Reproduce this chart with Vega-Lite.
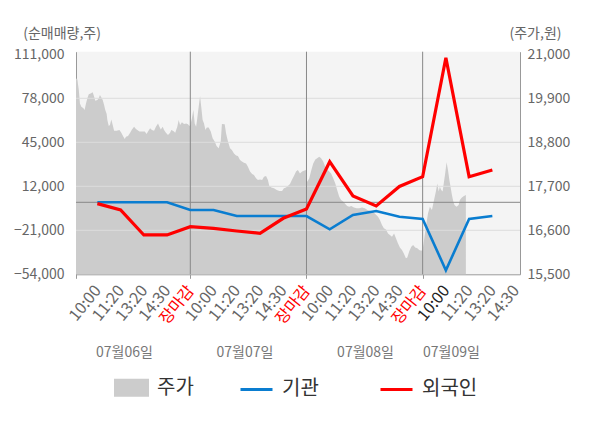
{
  "$schema": "https://vega.github.io/schema/vega-lite/v6.json",
  "width": 444,
  "height": 222.6,
  "autosize": {"type": "none"},
  "padding": {"left": 76, "top": 51.7, "right": 80, "bottom": 153.7},
  "background": "white",
  "config": {
    "font": "Noto Sans CJK KR",
    "view": {"fill": "#f4f4f4", "stroke": null},
    "axis": {
      "labelFont": "Noto Sans CJK KR",
      "titleFont": "Noto Sans CJK KR",
      "labelFontSize": 14,
      "labelColor": "#666666",
      "domainColor": "#999999",
      "grid": false,
      "ticks": false,
      "titleFontWeight": "normal",
      "titleFontSize": 14,
      "titleColor": "#666666",
      "labelFlush": false,
      "labelOverlap": false
    }
  },
  "datasets": {
    "price": [
      {"k": 0.08, "p": 20400}, {"k": 0.14, "p": 20370}, {"k": 0.2, "p": 20110}, {"k": 0.25, "p": 19770},
      {"k": 0.31, "p": 19690}, {"k": 0.4, "p": 19650}, {"k": 0.45, "p": 19610}, {"k": 0.51, "p": 19770},
      {"k": 0.57, "p": 19900}, {"k": 0.63, "p": 20000}, {"k": 0.71, "p": 20020}, {"k": 0.8, "p": 20050},
      {"k": 0.86, "p": 19940}, {"k": 0.91, "p": 19840}, {"k": 1.0, "p": 19860}, {"k": 1.06, "p": 19900},
      {"k": 1.11, "p": 19980}, {"k": 1.17, "p": 19920}, {"k": 1.23, "p": 19860}, {"k": 1.29, "p": 19730},
      {"k": 1.34, "p": 19610}, {"k": 1.4, "p": 19510}, {"k": 1.43, "p": 19360}, {"k": 1.49, "p": 19210},
      {"k": 1.54, "p": 19230}, {"k": 1.6, "p": 19370}, {"k": 1.66, "p": 19230}, {"k": 1.72, "p": 19090},
      {"k": 1.83, "p": 19090}, {"k": 1.95, "p": 19110}, {"k": 2.03, "p": 19040}, {"k": 2.12, "p": 18940},
      {"k": 2.18, "p": 18880}, {"k": 2.23, "p": 18940}, {"k": 2.32, "p": 18960}, {"k": 2.41, "p": 19040},
      {"k": 2.49, "p": 19120}, {"k": 2.58, "p": 19190}, {"k": 2.66, "p": 19130}, {"k": 2.72, "p": 19110},
      {"k": 2.81, "p": 19070}, {"k": 2.92, "p": 19070}, {"k": 3.04, "p": 19070}, {"k": 3.12, "p": 19010},
      {"k": 3.18, "p": 19070}, {"k": 3.27, "p": 19150}, {"k": 3.35, "p": 19110}, {"k": 3.44, "p": 19090},
      {"k": 3.52, "p": 19190}, {"k": 3.61, "p": 19270}, {"k": 3.67, "p": 19190}, {"k": 3.73, "p": 19120},
      {"k": 3.81, "p": 19190}, {"k": 3.87, "p": 19110}, {"k": 3.95, "p": 19040}, {"k": 4.04, "p": 18980},
      {"k": 4.13, "p": 19040}, {"k": 4.18, "p": 19110}, {"k": 4.27, "p": 19080}, {"k": 4.35, "p": 19040},
      {"k": 4.44, "p": 19190}, {"k": 4.5, "p": 19360}, {"k": 4.56, "p": 19230}, {"k": 4.64, "p": 19300},
      {"k": 4.73, "p": 19260}, {"k": 4.82, "p": 19270}, {"k": 4.9, "p": 19250}, {"k": 4.96, "p": 19210},
      {"k": 5.0, "p": 19230}, {"k": 5.07, "p": 19400}, {"k": 5.13, "p": 19610}, {"k": 5.19, "p": 19270},
      {"k": 5.25, "p": 19190}, {"k": 5.3, "p": 19400}, {"k": 5.36, "p": 19690}, {"k": 5.42, "p": 19960},
      {"k": 5.47, "p": 19690}, {"k": 5.53, "p": 19360}, {"k": 5.59, "p": 19270}, {"k": 5.65, "p": 19110},
      {"k": 5.71, "p": 19170}, {"k": 5.79, "p": 19170}, {"k": 5.88, "p": 19070}, {"k": 5.96, "p": 18900},
      {"k": 6.05, "p": 18820}, {"k": 6.13, "p": 18710}, {"k": 6.22, "p": 18650}, {"k": 6.31, "p": 18820},
      {"k": 6.36, "p": 19260}, {"k": 6.48, "p": 19250}, {"k": 6.54, "p": 19020}, {"k": 6.62, "p": 18820},
      {"k": 6.71, "p": 18650}, {"k": 6.79, "p": 18610}, {"k": 6.88, "p": 18520}, {"k": 6.97, "p": 18470},
      {"k": 7.05, "p": 18460}, {"k": 7.14, "p": 18360}, {"k": 7.22, "p": 18320}, {"k": 7.31, "p": 18290},
      {"k": 7.4, "p": 18270}, {"k": 7.48, "p": 18190}, {"k": 7.57, "p": 18070}, {"k": 7.66, "p": 18010},
      {"k": 7.74, "p": 17980}, {"k": 7.83, "p": 17900}, {"k": 7.91, "p": 17860}, {"k": 8.0, "p": 17870},
      {"k": 8.09, "p": 17860}, {"k": 8.17, "p": 17940}, {"k": 8.26, "p": 17960}, {"k": 8.34, "p": 17860},
      {"k": 8.4, "p": 17710}, {"k": 8.49, "p": 17670}, {"k": 8.6, "p": 17650}, {"k": 8.72, "p": 17610},
      {"k": 8.83, "p": 17580}, {"k": 8.95, "p": 17580}, {"k": 9.03, "p": 17650}, {"k": 9.12, "p": 17670},
      {"k": 9.2, "p": 17710}, {"k": 9.29, "p": 17760}, {"k": 9.38, "p": 17870}, {"k": 9.46, "p": 17960},
      {"k": 9.55, "p": 18070}, {"k": 9.63, "p": 18110}, {"k": 9.72, "p": 18020}, {"k": 9.81, "p": 18070},
      {"k": 9.89, "p": 18090}, {"k": 9.98, "p": 18110}, {"k": 10.01, "p": 17820}, {"k": 10.04, "p": 17820},
      {"k": 10.12, "p": 17900}, {"k": 10.21, "p": 18110}, {"k": 10.29, "p": 18270}, {"k": 10.38, "p": 18370},
      {"k": 10.46, "p": 18400}, {"k": 10.55, "p": 18440}, {"k": 10.63, "p": 18400}, {"k": 10.72, "p": 18320},
      {"k": 10.81, "p": 18190}, {"k": 10.89, "p": 18120}, {"k": 10.98, "p": 18070}, {"k": 11.06, "p": 18020},
      {"k": 11.15, "p": 17900}, {"k": 11.24, "p": 17770}, {"k": 11.32, "p": 17610}, {"k": 11.41, "p": 17440},
      {"k": 11.49, "p": 17360}, {"k": 11.58, "p": 17320}, {"k": 11.67, "p": 17260}, {"k": 11.75, "p": 17210},
      {"k": 11.84, "p": 17190}, {"k": 11.93, "p": 17210}, {"k": 12.04, "p": 17170}, {"k": 12.16, "p": 17150},
      {"k": 12.27, "p": 17150}, {"k": 12.39, "p": 17170}, {"k": 12.51, "p": 17150}, {"k": 12.62, "p": 17110},
      {"k": 12.74, "p": 17090}, {"k": 12.85, "p": 17070}, {"k": 12.96, "p": 17010}, {"k": 13.08, "p": 16940},
      {"k": 13.16, "p": 16860}, {"k": 13.25, "p": 16730}, {"k": 13.33, "p": 16650}, {"k": 13.42, "p": 16620},
      {"k": 13.51, "p": 16520}, {"k": 13.59, "p": 16480}, {"k": 13.68, "p": 16440}, {"k": 13.77, "p": 16520},
      {"k": 13.85, "p": 16400}, {"k": 13.94, "p": 16270}, {"k": 14.02, "p": 16170}, {"k": 14.11, "p": 16110},
      {"k": 14.19, "p": 16020}, {"k": 14.28, "p": 15900}, {"k": 14.34, "p": 15920}, {"k": 14.42, "p": 16070},
      {"k": 14.51, "p": 16190}, {"k": 14.59, "p": 16230}, {"k": 14.68, "p": 16170}, {"k": 14.77, "p": 16150},
      {"k": 14.85, "p": 16110}, {"k": 14.94, "p": 16090}, {"k": 15.0, "p": 16110}, {"k": 15.06, "p": 16360},
      {"k": 15.14, "p": 16690}, {"k": 15.23, "p": 17020}, {"k": 15.31, "p": 17190}, {"k": 15.4, "p": 17110},
      {"k": 15.49, "p": 17360}, {"k": 15.57, "p": 17570}, {"k": 15.63, "p": 17770}, {"k": 15.69, "p": 17570},
      {"k": 15.74, "p": 17690}, {"k": 15.8, "p": 17610}, {"k": 15.86, "p": 17570}, {"k": 15.92, "p": 17820},
      {"k": 15.97, "p": 18020}, {"k": 16.03, "p": 18300}, {"k": 16.09, "p": 18110}, {"k": 16.15, "p": 17860},
      {"k": 16.2, "p": 17690}, {"k": 16.26, "p": 17480}, {"k": 16.32, "p": 17320}, {"k": 16.37, "p": 17230},
      {"k": 16.46, "p": 17190}, {"k": 16.55, "p": 17230}, {"k": 16.6, "p": 17360}, {"k": 16.69, "p": 17420},
      {"k": 16.78, "p": 17460}, {"k": 16.86, "p": 17480}
    ],
    "flows": [
      {"k": 1, "series": "기관", "v": 0}, {"k": 2, "series": "기관", "v": 0},
      {"k": 3, "series": "기관", "v": 0}, {"k": 4, "series": "기관", "v": 0},
      {"k": 5, "series": "기관", "v": -5800}, {"k": 6, "series": "기관", "v": -5800},
      {"k": 7, "series": "기관", "v": -10300}, {"k": 8, "series": "기관", "v": -10300},
      {"k": 9, "series": "기관", "v": -10300}, {"k": 10, "series": "기관", "v": -10300},
      {"k": 11, "series": "기관", "v": -20250}, {"k": 12, "series": "기관", "v": -9500},
      {"k": 13, "series": "기관", "v": -6500}, {"k": 14, "series": "기관", "v": -10800},
      {"k": 15, "series": "기관", "v": -12500}, {"k": 16, "series": "기관", "v": -51000},
      {"k": 17, "series": "기관", "v": -12500}, {"k": 18, "series": "기관", "v": -10300},
      {"k": 1, "series": "외국인", "v": -1000}, {"k": 2, "series": "외국인", "v": -5800},
      {"k": 3, "series": "외국인", "v": -24500}, {"k": 4, "series": "외국인", "v": -24500},
      {"k": 5, "series": "외국인", "v": -18300}, {"k": 6, "series": "외국인", "v": -19500},
      {"k": 7, "series": "외국인", "v": -21500}, {"k": 8, "series": "외국인", "v": -23250},
      {"k": 9, "series": "외국인", "v": -12000}, {"k": 10, "series": "외국인", "v": -5000},
      {"k": 11, "series": "외국인", "v": 30450}, {"k": 12, "series": "외국인", "v": 4800},
      {"k": 13, "series": "외국인", "v": -2700}, {"k": 14, "series": "외국인", "v": 11900},
      {"k": 15, "series": "외국인", "v": 19200}, {"k": 16, "series": "외국인", "v": 108450},
      {"k": 17, "series": "외국인", "v": 19200}, {"k": 18, "series": "외국인", "v": 24200}
    ],
    "hgrid": [{"v": -21000}, {"v": 12000}, {"v": 45000}, {"v": 78000}],
    "days": [{"k": 5}, {"k": 10}, {"k": 15}],
    "zero": [{"v": 0}]
  },
  "layer": [
    {
      "data": {"name": "price"},
      "mark": {"type": "area", "color": "#cccccc", "opacity": 1},
      "encoding": {
        "x": {
          "field": "k", "type": "quantitative",
          "scale": {"domain": [0.08, 19.19], "nice": false, "zero": false},
          "axis": {
            "orient": "bottom",
            "title": null,
            "values": [0.08, 1, 2, 3, 4, 5, 6, 7, 8, 9, 10, 11, 12, 13, 14, 15, 16, 17, 18, 19],
            "labelExpr": "datum.value < 0.5 ? '' : datum.value % 5 === 0 ? '장마감' : ['10:00', '11:20', '13:20', '14:30'][(datum.value % 5) - 1]",
            "labelAngle": -51,
            "labelFontSize": 16,
            "labelPadding": 9,
            "ticks": true,
            "tickSize": 4,
            "tickColor": "#999999",
            "tickOpacity": {"condition": {"test": "datum.value < 0.5 || datum.value % 5 === 0", "value": 1}, "value": 0},
            "labelColor": {"condition": [
              {"test": "datum.value % 5 === 0", "value": "#ff0000"},
              {"test": "datum.value === 16", "value": "#222222"}
            ], "value": "#666666"},
            "domain": true
          }
        },
        "y": {
          "field": "p", "type": "quantitative",
          "scale": {"domain": [15500, 21065], "nice": false, "zero": false},
          "axis": {
            "orient": "right",
            "values": [15500, 16600, 17700, 18800, 19900, 21000],
            "labelExpr": "format(datum.value, ',')",
            "labelPadding": 7,
            "domain": true,
            "title": "(주가,원)",
            "titleAngle": 0,
            "titleX": -11,
            "titleY": -18.7,
            "titleAlign": "left",
            "titleBaseline": "middle"
          }
        },
        "y2": {"datum": 15500}
      }
    },
    {
      "data": {"name": "hgrid"},
      "mark": {"type": "rule", "color": "#dddddd", "strokeWidth": 1},
      "encoding": {
        "y": {
          "field": "v", "type": "quantitative",
          "scale": {"domain": [-54000, 112950], "nice": false, "zero": false},
          "axis": {
            "orient": "left",
            "values": [-54000, -21000, 12000, 45000, 78000, 111000],
            "labelExpr": "format(datum.value, ',')",
            "labelPadding": 12,
            "domain": true,
            "title": "(순매매량,주)",
            "titleAngle": 0,
            "titleX": -53.3,
            "titleY": -18.7,
            "titleAlign": "left",
            "titleBaseline": "middle"
          }
        }
      }
    },
    {
      "data": {"name": "days"},
      "mark": {"type": "rule", "color": "#888888", "strokeWidth": 1},
      "encoding": {
        "x": {
          "field": "k", "type": "quantitative",
          "scale": {"domain": [0.08, 19.19], "nice": false, "zero": false},
          "axis": {
            "orient": "bottom",
            "title": null,
            "values": [2.146, 7.33, 12.52, 16.22],
            "labelExpr": "datum.value < 3 ? '07월06일' : datum.value < 8 ? '07월07일' : datum.value < 13 ? '07월08일' : '07월09일'",
            "labelAngle": 0,
            "labelAlign": "center",
            "labelBaseline": "middle",
            "labelPadding": 78.5,
            "labelFontSize": 14,
            "labelColor": "#777777",
            "ticks": false,
            "tickSize": 0,
            "domain": false
          }
        }
      }
    },
    {
      "data": {"name": "zero"},
      "mark": {"type": "rule", "color": "#888888", "strokeWidth": 1},
      "encoding": {
        "y": {
          "field": "v", "type": "quantitative",
          "scale": {"domain": [-54000, 112950], "nice": false, "zero": false},
          "axis": null
        }
      }
    },
    {
      "data": {"name": "flows"},
      "mark": {"type": "line", "interpolate": "linear"},
      "encoding": {
        "x": {
          "field": "k", "type": "quantitative",
          "scale": {"domain": [0.08, 19.19], "nice": false, "zero": false},
          "axis": null
        },
        "y": {
          "field": "v", "type": "quantitative",
          "scale": {"domain": [-54000, 112950], "nice": false, "zero": false},
          "axis": null
        },
        "strokeWidth": {"condition": {"test": "datum.series === '외국인'", "value": 3.2}, "value": 2.6},
        "color": {
          "field": "series", "type": "nominal",
          "scale": {"domain": ["주가", "기관", "외국인"], "range": ["#cccccc", "#0a7dd0", "#ff0000"]},
          "legend": {
            "orient": "none",
            "legendX": 38,
            "legendY": 318,
            "direction": "horizontal",
            "title": null,
            "padding": 0,
            "labelFontSize": 20,
            "labelColor": "#333333",
            "labelFont": "Noto Sans CJK KR",
            "symbolSize": 1024,
            "labelOffset": 8,
            "columnPadding": 40,
            "labelExpr": "datum.label === '기관' ? '기관\u2800' : datum.label",
            "encode": {
              "symbols": {
                "update": {
                  "shape": {"signal": "datum.value === '주가' ? 'M-1,-0.47H1V0.47H-1Z' : 'M-1,0H1'"},
                  "fill": {"signal": "datum.value === '주가' ? '#cccccc' : 'transparent'"},
                  "stroke": {"signal": "datum.value === '주가' ? 'transparent' : datum.value === '기관' ? '#0a7dd0' : '#ff0000'"},
                  "strokeWidth": {"value": 3},
                  "opacity": {"value": 1}
                }
              }
            }
          }
        }
      }
    }
  ],
  "resolve": {
    "scale": {"y": "independent"},
    "axis": {"x": "independent", "y": "independent"}
  }
}
